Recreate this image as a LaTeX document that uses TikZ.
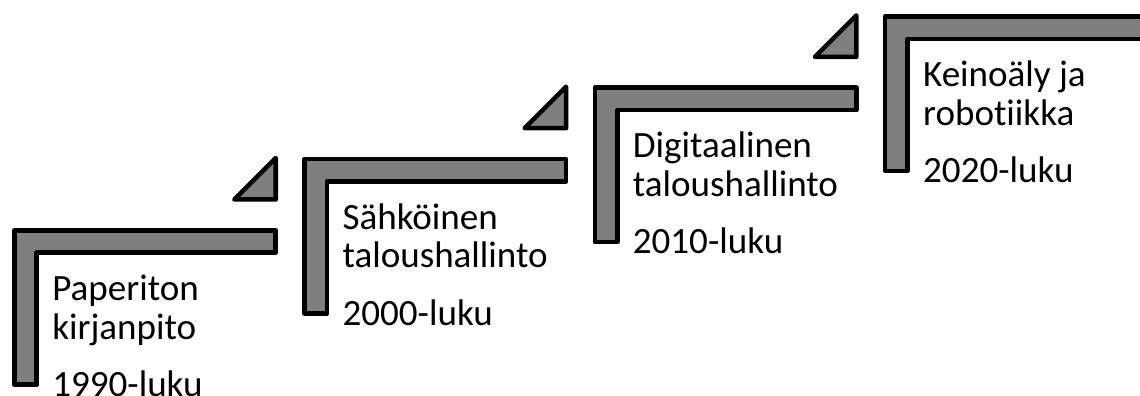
\documentclass[tikz,border=0pt]{standalone}
\usepackage{fontspec}
\setmainfont{Carlito}[Ligatures=NoCommon]
\definecolor{stairgray}{HTML}{7F7F7F}
\tikzset{
  stair/.style={draw=black, fill=stairgray, line width=3.4pt, line join=round},
  steplabel/.style={anchor=base west, inner sep=0pt,
    font=\fontsize{27.8}{28.95}\selectfont},
  % L-shaped step, origin at its outer top-left corner
  stairstep/.pic={
    \path[stair] (2.25,2.25) -- (263.75,2.25) -- (263.75,24.75)
      -- (24.75,24.75) -- (24.75,156.75) -- (2.25,156.75) -- cycle;
  },
  % small triangle in the corner between two steps
  riser/.pic={
    \path[stair] (-68,42.75) -- (-26.55,1.25) -- (-26.55,42.75) -- cycle;
  }
}
\begin{document}
\begin{tikzpicture}[x=0.75pt, y=-0.75pt]
\useasboundingbox (0,0) rectangle (1140,396);
\clip (0,0) rectangle (1140,396);

% steps
\pic at (12,228) {stairstep};
\pic at (302.3,156.7) {stairstep};
\pic at (592.6,85.4) {stairstep};
\pic at (882.9,14.1) {stairstep};

% risers
\pic at (302.3,156.7) {riser};
\pic at (592.6,85.4) {riser};
\pic at (882.9,14.1) {riser};

% labels
\node[steplabel] (s1) at (52,300.5)
  {\begin{tabular}[t]{@{}l@{}}Paperiton\\kirjanpito\\[14.1pt]1990-luku\end{tabular}};
\node[steplabel] (s2) at (342.3,229.2)
  {\begin{tabular}[t]{@{}l@{}}Sähköinen\\taloushallinto\\[14.1pt]2000-luku\end{tabular}};
\node[steplabel] (s3) at (632.6,157.9)
  {\begin{tabular}[t]{@{}l@{}}Digitaalinen\\taloushallinto\\[14.1pt]2010-luku\end{tabular}};
\node[steplabel] (s4) at (922.9,86.6)
  {\begin{tabular}[t]{@{}l@{}}Keinoäly ja\\robotiikka\\[14.1pt]2020-luku\end{tabular}};
\end{tikzpicture}
\end{document}
